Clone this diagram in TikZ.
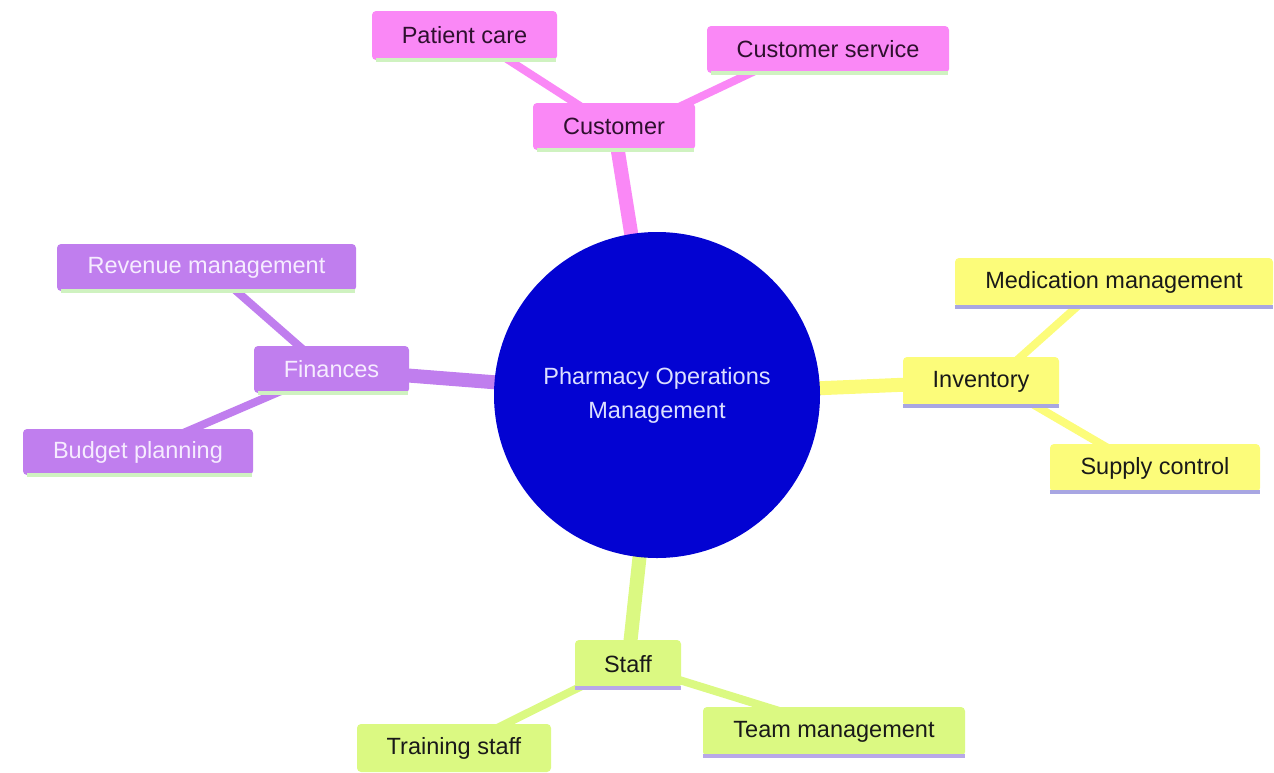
\documentclass[tikz,border=0pt]{standalone}
\usepackage{fontspec}
\setmainfont{Liberation Sans}
\usetikzlibrary{calc,backgrounds}
\definecolor{pk}{HTML}{FA88F6}
\definecolor{pu}{HTML}{C07EEE}
\definecolor{ye}{HTML}{FCFC7A}
\definecolor{gr}{HTML}{DBF982}
\definecolor{rootc}{HTML}{0303D2}
\definecolor{ulg}{HTML}{CFF2C0}
\definecolor{ulb}{HTML}{A8A6E2}
\definecolor{ulp}{HTML}{B8A8E8}
\definecolor{pktext}{HTML}{2E102E}
\definecolor{putext}{HTML}{F6ECFF}
\definecolor{roottext}{HTML}{DCE0FF}
\tikzset{
  mbox/.style={rounded corners=4pt, inner sep=0pt, font=\fontsize{23.5}{28}\selectfont},
  pkbox/.style={mbox, fill=pk, text=pktext},
  pubox/.style={mbox, fill=pu, text=putext},
  yebox/.style={mbox, fill=ye, text=black!90},
  grbox/.style={mbox, fill=gr, text=black!90},
  rootedge/.style={line width=14pt},
  childedge/.style={line width=8pt},
  uline/.style={line width=3.5pt}
}
\begin{document}
\begin{tikzpicture}[x=1pt,y=-1pt]
\useasboundingbox (0,0) rectangle (1274,772);
% root
\node[circle, fill=rootc, minimum size=326pt, inner sep=0pt, text=roottext,
      font=\fontsize{23.5}{34}\selectfont, align=center] (root) at (657,395)
      {Pharmacy Operations\\Management};
% customer branch
\node[pkbox, minimum width=162pt, minimum height=47pt] (cust) at (614,126.5) {Customer};
\node[pkbox, minimum width=185pt, minimum height=49pt] (pc) at (464.5,35.5) {Patient care};
\node[pkbox, minimum width=242pt, minimum height=47pt] (cs) at (828,49.5) {Customer service};
% inventory branch
\node[yebox, minimum width=156pt, minimum height=49pt] (inv) at (981,381.5) {Inventory};
\node[yebox, minimum width=318pt, minimum height=49pt] (mm) at (1114,282.5) {Medication management};
\node[yebox, minimum width=210pt, minimum height=48pt] (sc) at (1155,468) {Supply control};
% finances branch
\node[pubox, minimum width=155pt, minimum height=47pt] (fin) at (331.5,369.5) {Finances};
\node[pubox, minimum width=299pt, minimum height=47pt] (rm) at (206.5,267.5) {Revenue management};
\node[pubox, minimum width=230pt, minimum height=46pt] (bp) at (138,452) {Budget planning};
% staff branch
\node[grbox, minimum width=106pt, minimum height=48pt] (staff) at (628,664) {Staff};
\node[grbox, minimum width=194pt, minimum height=48pt] (ts) at (454,748) {Training staff};
\node[grbox, minimum width=262pt, minimum height=49pt] (tm) at (834,731.5) {Team management};
% underlines
\foreach \n in {cust,pc,cs,fin,rm,bp}
  \draw[uline, ulg] ($(\n.south west)+(4,0)$) -- ($(\n.south east)+(-1,0)$);
\foreach \n in {inv,mm,sc}
  \draw[uline, ulb] (\n.south west) -- (\n.south east);
\foreach \n in {staff,tm}
  \draw[uline, ulp] (\n.south west) -- (\n.south east);
\begin{scope}[on background layer]
  \draw[rootedge, pk] (root.center) -- (cust.center);
  \draw[rootedge, pu] (root.center) -- (fin.center);
  \draw[rootedge, ye] (root.center) -- (inv.center);
  \draw[rootedge, gr] (root.center) -- (staff.center);
  \draw[childedge, pk] ($(pc.center)+(28.5,14.5)$) -- ($(cust.center)+(-20,-11.5)$);
  \draw[childedge, pk] ($(cs.center)+(-54,12.5)$) -- ($(cust.center)+(48,-11.5)$);
  \draw[childedge, pu] ($(rm.center)+(19.5,14.5)$) -- ($(fin.center)+(-16.5,-9.5)$);
  \draw[childedge, pu] ($(fin.center)+(-36.5,15.5)$) -- ($(bp.center)+(29,-12)$);
  \draw[childedge, ye] ($(mm.center)+(-24,12.5)$) -- ($(inv.center)+(25,-11.5)$);
  \draw[childedge, ye] ($(inv.center)+(36,13.5)$) -- ($(sc.center)+(-30,-10)$);
  \draw[childedge, gr] ($(staff.center)+(-26,12)$) -- ($(ts.center)+(23,-10)$);
  \draw[childedge, gr] ($(staff.center)+(32,10)$) -- ($(tm.center)+(-32,-13.5)$);
\end{scope}
\end{tikzpicture}
\end{document}
